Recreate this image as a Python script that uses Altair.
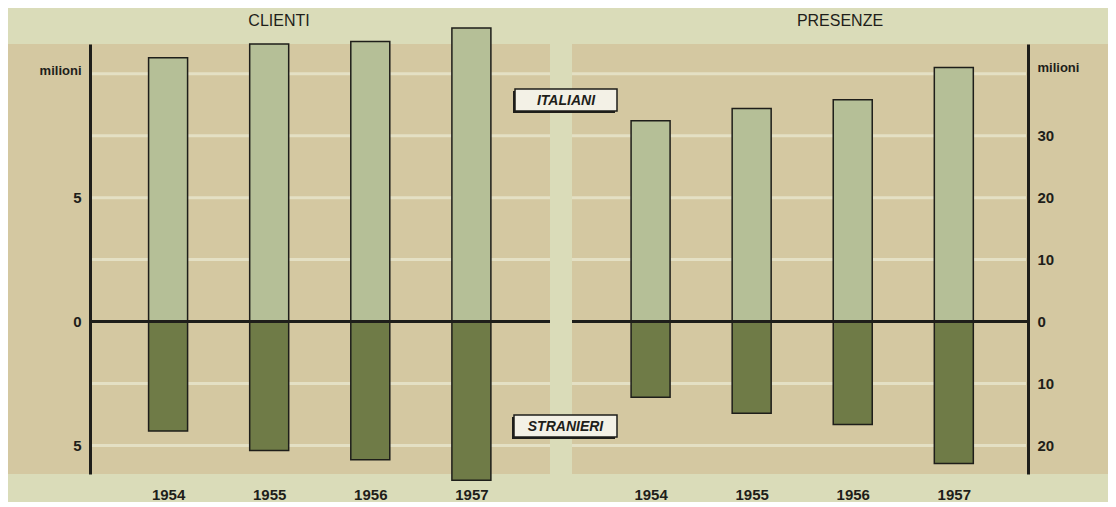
import altair as alt
import pandas as pd

# ---- data (milioni) ----
years = [1954, 1955, 1956, 1957]
clienti_italiani = [10.65, 11.2, 11.3, 11.85]
clienti_stranieri = [4.42, 5.2, 5.57, 6.4]
presenze_italiani = [32.4, 34.4, 35.8, 41.0]
presenze_stranieri = [12.2, 14.8, 16.6, 22.9]

clienti_ticks = [5, 0, -5]
clienti_grid = [10, 7.5, 5, 2.5, -2.5, -5]
presenze_ticks = [30, 20, 10, 0, -10, -20]
presenze_grid = [40, 30, 20, 10, -10, -20]

# ---- style ----
PAGE_BG = "#dadcb9"
PANEL_BG = "#d4c8a1"
LIGHT = "#b5bf97"
DARK = "#6f7b47"
GRID = "#e4e0c4"
INK = "#1e1e1a"
FONT = "Liberation Sans"
H = 430
WL, WR = 542, 536


def frame(ita, stra):
    rows = []
    for y, a, b in zip(years, ita, stra):
        rows.append({"anno": y, "valore": a, "gruppo": "ITALIANI"})
        rows.append({"anno": y, "valore": -b, "gruppo": "STRANIERI"})
    return pd.DataFrame(rows)


def panel(df, ticks, grid, ydom, xdom, orient, offset, axis_px, width, title, title_x, title_y):
    xs = alt.Scale(domain=xdom, nice=False, zero=False)
    ys = alt.Scale(domain=ydom, nice=False, zero=False)
    xaxis = alt.Axis(values=years, format="d", domain=False, ticks=False, grid=False,
                     labelPadding=13, labelFontSize=15, labelFontWeight="bold",
                     labelColor=INK, labelFont=FONT, title=None)
    yaxis = alt.Axis(values=ticks, labelExpr="abs(datum.value)", orient=orient, offset=offset,
                     domain=True, domainColor=INK, domainWidth=3, ticks=False, grid=False,
                     labelPadding=9, labelFontSize=15, labelFontWeight="bold", labelColor=INK,
                     labelFont=FONT, title="milioni", titleAngle=0, titleX=title_x, titleY=title_y,
                     titleAlign="right" if orient == "left" else "left", titleBaseline="middle",
                     titleFontSize=13, titleFontWeight="bold", titleColor=INK, titleFont=FONT)

    if orient == "left":
        gx, gx2 = axis_px + 2, width
    else:
        gx, gx2 = 0, axis_px - 2

    gdf = pd.DataFrame({"g": grid})
    grid_l = alt.Chart(gdf).mark_rule(color=GRID, strokeWidth=3).encode(
        y=alt.Y("g:Q", scale=ys, axis=yaxis, title="milioni"),
        x=alt.value(gx), x2=alt.value(gx2))

    bars = alt.Chart(df).mark_bar(size=39, stroke=INK, strokeWidth=1.5).encode(
        x=alt.X("anno:Q", scale=xs, axis=xaxis),
        y=alt.Y("valore:Q", scale=ys, axis=yaxis, title="milioni"),
        color=alt.Color("gruppo:N", scale=alt.Scale(domain=["ITALIANI", "STRANIERI"],
                                                     range=[LIGHT, DARK]), legend=None))

    zdf = pd.DataFrame({"z": [0]})
    zero_l = alt.Chart(zdf).mark_rule(color=INK, strokeWidth=3).encode(
        y=alt.Y("z:Q", scale=ys, axis=yaxis, title="milioni"),
        x=alt.value(axis_px if orient == "left" else 0),
        x2=alt.value(width if orient == "left" else axis_px))

    tdf = pd.DataFrame({"t": [title]})
    title_l = alt.Chart(tdf).mark_text(font=FONT, fontSize=16, color=INK, align="center",
                                       baseline="middle").encode(
        text="t:N", x=alt.value(width / 2), y=alt.value(-23))

    return alt.layer(grid_l, bars, zero_l, title_l).properties(width=width, height=H)


def label_box(text, x0, x1, y0, y1):
    d = pd.DataFrame({"t": [text]})
    shadow = alt.Chart(d).mark_rect(color=INK).encode(
        x=alt.value(x0 - 2), x2=alt.value(x1 - 2), y=alt.value(y0 + 2), y2=alt.value(y1 + 2))
    box = alt.Chart(d).mark_rect(color="#f3f1e6", stroke=INK, strokeWidth=1.5).encode(
        x=alt.value(x0), x2=alt.value(x1), y=alt.value(y0), y2=alt.value(y1))
    lab = alt.Chart(d).mark_text(font=FONT, fontSize=14, fontStyle="italic", fontWeight="bold",
                                 color=INK, align="center", baseline="middle").encode(
        text="t:N", x=alt.value((x0 + x1) / 2), y=alt.value((y0 + y1) / 2 + 1))
    return [shadow, box, lab]


left = panel(frame(clienti_italiani, clienti_stranieri), clienti_ticks, clienti_grid,
             [-6.15, 11.2], [1952.466, 1957.728], "left", -82, 82, WL, "CLIENTI", -9, 26)

right_base = panel(frame(presenze_italiani, presenze_stranieri), presenze_ticks, presenze_grid,
                   [-24.6, 44.8], [1953.272, 1958.476], "right", -80, 456, WR, "PRESENZE", 9, 23)

boxes = label_box("ITALIANI", -57, 45, 45, 67) + label_box("STRANIERI", -58, 45, 371, 393)
right = alt.layer(right_base, *boxes).properties(width=WR, height=H)

chart = alt.hconcat(left, right, spacing=22, bounds="flush").properties(
    padding={"left": 0, "top": 5, "right": 0, "bottom": 0}
).configure(background=PAGE_BG).configure_view(fill=PANEL_BG, stroke=None)

chart.save("out.html", embed_options={"renderer": "svg", "actions": False})
